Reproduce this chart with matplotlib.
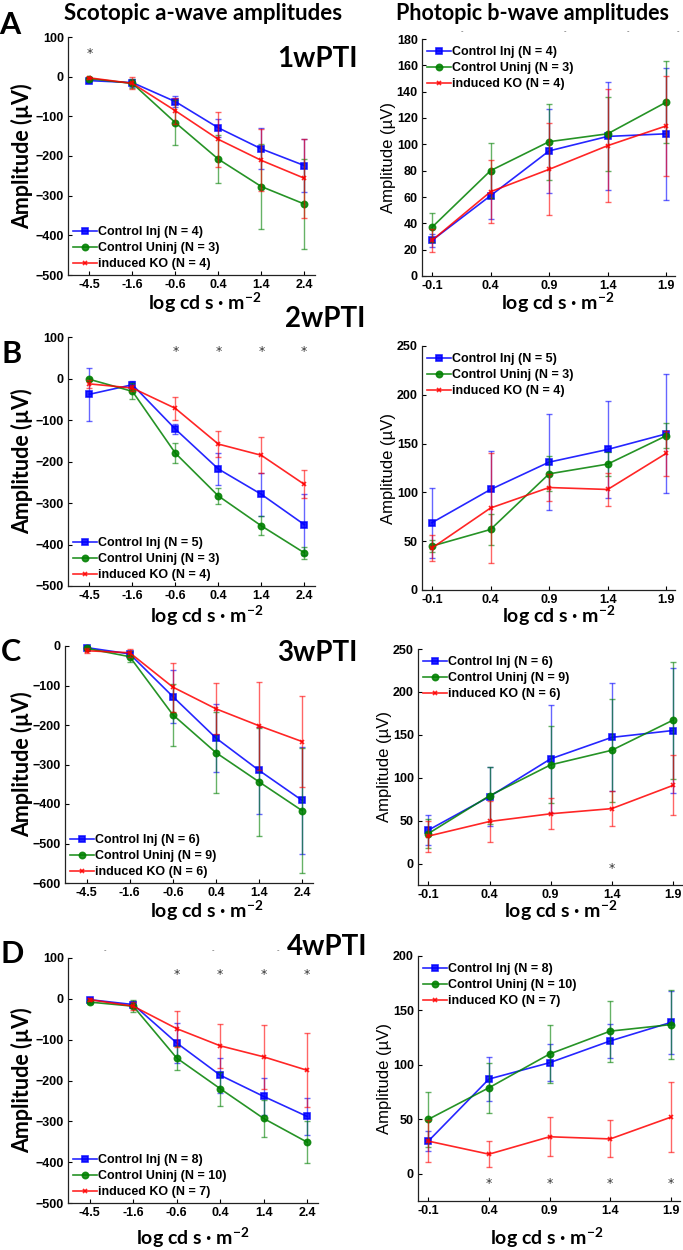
import matplotlib
matplotlib.use('Agg')
import matplotlib.pyplot as plt
import numpy as np

plt.rcParams['mathtext.default'] = 'regular'

# light intensities (log cd s m-2)
scot_lux = ['-4.5', '-1.6', '-0.6', '0.4', '1.4', '2.4']
phot_lux = ['-0.1', '0.4', '0.9', '1.4', '1.9']

# group sizes per time point
n_inj = [4, 5, 6, 8]
n_uninj = [3, 3, 9, 10]
n_ko = [4, 4, 6, 7]

# 1 week post TI
w1_scot_inj = [-10, -15, -63, -129, -182, -224]
w1_scot_inj_err = [3, 10, 14, 23, 52, 68]
w1_scot_uninj = [-5, -17, -116, -208, -277, -321]
w1_scot_uninj_err = [3, 12, 57, 60, 106, 113]
w1_scot_ko = [-3, -17, -86, -158, -211, -256]
w1_scot_ko_err = [3, 15, 33, 70, 78, 100]
w1_phot_inj = [27, 61, 95, 106, 108]
w1_phot_inj_err = [5, 18, 32, 41, 50]
w1_phot_uninj = [37, 80, 102, 108, 132]
w1_phot_uninj_err = [11, 21, 29, 28, 31]
w1_phot_ko = [27, 64, 81, 99, 114]
w1_phot_ko_err = [9, 24, 35, 43, 38]

# 2 weeks
w2_scot_inj = [-38, -15, -122, -218, -279, -352]
w2_scot_inj_err = [64, 10, 12, 39, 52, 73]
w2_scot_uninj = [-2, -31, -180, -283, -355, -420]
w2_scot_uninj_err = [3, 19, 24, 20, 23, 15]
w2_scot_ko = [-13, -23, -72, -158, -185, -255]
w2_scot_ko_err = [10, 8, 28, 32, 43, 34]
w2_phot_inj = [69, 103, 131, 144, 160]
w2_phot_inj_err = [36, 39, 49, 50, 61]
w2_phot_uninj = [45, 62, 119, 129, 158]
w2_phot_uninj_err = [6, 16, 18, 12, 13]
w2_phot_ko = [43, 84, 105, 103, 140]
w2_phot_ko_err = [13, 56, 14, 17, 23]

# 3 weeks
w3_scot_inj = [-4, -20, -128, -233, -315, -391]
w3_scot_inj_err = [3, 6, 67, 86, 110, 135]
w3_scot_uninj = [-6, -27, -174, -270, -344, -417]
w3_scot_uninj_err = [4, 14, 79, 103, 136, 158]
w3_scot_ko = [-12, -17, -104, -159, -202, -242]
w3_scot_ko_err = [6, 10, 62, 65, 111, 116]
w3_phot_inj = [39, 78, 122, 147, 155]
w3_phot_inj_err = [17, 34, 63, 63, 73]
w3_phot_uninj = [35, 79, 115, 132, 167]
w3_phot_uninj_err = [17, 33, 45, 60, 68]
w3_phot_ko = [32, 49, 58, 64, 91]
w3_phot_ko_err = [18, 24, 18, 20, 35]

# 4 weeks
w4_scot_inj = [-2, -14, -108, -187, -239, -288]
w4_scot_inj_err = [3, 8, 50, 43, 46, 46]
w4_scot_uninj = [-8, -18, -145, -220, -293, -351]
w4_scot_uninj_err = [5, 14, 30, 42, 46, 51]
w4_scot_ko = [-2, -18, -73, -115, -142, -175]
w4_scot_ko_err = [3, 10, 44, 54, 78, 91]
w4_phot_inj = [30, 87, 102, 122, 139]
w4_phot_inj_err = [9, 20, 17, 16, 29]
w4_phot_uninj = [50, 79, 110, 131, 137]
w4_phot_uninj_err = [25, 23, 27, 28, 32]
w4_phot_ko = [30, 18, 34, 32, 52]
w4_phot_ko_err = [19, 12, 18, 17, 32]

# significance stars: (index, y)
w1_scot_stars = ([0], 58)
w2_scot_stars = ([2, 3, 4, 5], 65)
w3_phot_stars = ([3], -6)
w4_scot_stars = ([2, 3, 4, 5], 59)
w4_phot_stars = ([1, 2, 3, 4], -9)

W, H = 683, 1250
fig = plt.figure(figsize=(W / 100, H / 100), dpi=100)


def box(x0, y0, x1, y1):
    return [x0 / W, 1 - y1 / H, (x1 - x0) / W, (y1 - y0) / H]


def px(x, y):
    return x / W, 1 - y / H


BLUE, GREEN, RED = '#0000ff', '#008000', '#ff0000'
TICKFONT = dict(family='Liberation Sans', weight='bold', size=9)
CAL = 'Lato'


def draw_panel(ax, labels, series, ylim, yticks, xlim, legend_loc, stars=None):
    x = np.arange(1, len(labels) + 1)
    styles = [(BLUE, 's', 4.5), (GREEN, 'o', 4.5), (RED, 'x', 3)]
    for (vals, err, name), (c, m, ms) in zip(series, styles):
        ax.errorbar(x, vals, yerr=err, fmt='none', ecolor=c, elinewidth=1,
                    capsize=2.2, capthick=1, alpha=0.6, clip_on=False)
        ax.plot(x, vals, color=c, marker=m, ms=ms, lw=1.2, alpha=0.85,
                mew=1.2, label=name, clip_on=False)
    ax.set_xlim(*xlim)
    ax.set_ylim(*ylim)
    ax.set_xticks(x)
    ax.set_xticklabels(labels)
    ax.set_yticks(yticks)
    for t in ax.get_xticklabels() + ax.get_yticklabels():
        t.set_fontproperties(matplotlib.font_manager.FontProperties(**TICKFONT))
    ax.tick_params(direction='in', length=3, width=0.8, pad=3)
    for s in ['top', 'right']:
        ax.spines[s].set_visible(False)
    for s in ['left', 'bottom']:
        ax.spines[s].set_linewidth(0.9)
        ax.spines[s].set_color('#222222')
    leg_kw = dict(frameon=False,
                  prop=dict(family='Liberation Sans', weight='bold', size=9),
                  handlelength=1.9, handletextpad=0.1, labelspacing=0.32,
                  borderaxespad=0.1, borderpad=0.3)
    if legend_loc == 'lower left':
        ax.legend(loc='lower left', bbox_to_anchor=(0.0, 0.0), **leg_kw)
    else:
        ax.legend(loc='upper left', bbox_to_anchor=(0.0, 0.99), **leg_kw)
    if stars:
        idx, yv = stars
        for i in idx:
            ax.text(x[i], yv, '*', ha='center', va='center', fontsize=9,
                    color='#333333')


scot_boxes = [(68, 37, 315, 275), (68, 337, 315, 586), (65, 646, 313, 883), (68, 958, 318, 1203)]
phot_boxes = [(422, 39, 675, 276), (422, 346, 675, 590), (418, 649, 682, 885), (418, 956, 680, 1201)]
scot_ylims = [(-500, 100), (-500, 100), (-600, 0), (-500, 100)]
scot_yticks = [np.arange(-500, 101, 100), np.arange(-500, 101, 100),
               np.arange(-600, 1, 100), np.arange(-500, 101, 100)]
phot_ylims = [(0, 180), (0, 250), (-25, 250), (-25, 200)]
phot_yticks = [np.arange(0, 181, 20), np.arange(0, 251, 50),
               np.arange(0, 251, 50), np.arange(0, 201, 50)]

scot_data = [
    (w1_scot_inj, w1_scot_inj_err, w1_scot_uninj, w1_scot_uninj_err, w1_scot_ko, w1_scot_ko_err),
    (w2_scot_inj, w2_scot_inj_err, w2_scot_uninj, w2_scot_uninj_err, w2_scot_ko, w2_scot_ko_err),
    (w3_scot_inj, w3_scot_inj_err, w3_scot_uninj, w3_scot_uninj_err, w3_scot_ko, w3_scot_ko_err),
    (w4_scot_inj, w4_scot_inj_err, w4_scot_uninj, w4_scot_uninj_err, w4_scot_ko, w4_scot_ko_err),
]
phot_data = [
    (w1_phot_inj, w1_phot_inj_err, w1_phot_uninj, w1_phot_uninj_err, w1_phot_ko, w1_phot_ko_err),
    (w2_phot_inj, w2_phot_inj_err, w2_phot_uninj, w2_phot_uninj_err, w2_phot_ko, w2_phot_ko_err),
    (w3_phot_inj, w3_phot_inj_err, w3_phot_uninj, w3_phot_uninj_err, w3_phot_ko, w3_phot_ko_err),
    (w4_phot_inj, w4_phot_inj_err, w4_phot_uninj, w4_phot_uninj_err, w4_phot_ko, w4_phot_ko_err),
]
scot_stars = [w1_scot_stars, w2_scot_stars, None, w4_scot_stars]
phot_stars = [None, None, w3_phot_stars, w4_phot_stars]

letters = ['A', 'B', 'C', 'D']
letter_pos = [(10, 25), (12, 354), (11, 652), (12, 954)]
week_labels = ['1wPTI', '2wPTI', '3wPTI', '4wPTI']
week_pos = [(277, 59), (285, 319), (277, 653), (287, 947)]
scot_xlabel_pos = [(205, 303), (207, 616), (207, 911), (193, 1238)]
phot_xlabel_pos = [(558, 303), (559, 616), (561, 911), (547, 1238)]
phot_ylabel_x = [388, 388, 384, 384]

for k in range(4):
    inj, inj_e, un, un_e, ko, ko_e = scot_data[k]
    names = ['Control Inj (N = %d)' % n_inj[k], 'Control Uninj (N = %d)' % n_uninj[k],
             'induced KO (N = %d)' % n_ko[k]]
    ax = fig.add_axes(box(*scot_boxes[k]))
    draw_panel(ax, scot_lux, [(inj, inj_e, names[0]), (un, un_e, names[1]), (ko, ko_e, names[2])],
               scot_ylims[k], scot_yticks[k], (0.5, 6.25), 'lower left', scot_stars[k])
    b = scot_boxes[k]
    fig.text(*px(22, (b[1] + b[3]) / 2), 'Amplitude (µV)', rotation=90, ha='center',
             va='center', family=CAL, weight='bold', fontsize=15.5)

    inj, inj_e, un, un_e, ko, ko_e = phot_data[k]
    ax = fig.add_axes(box(*phot_boxes[k]))
    draw_panel(ax, phot_lux, [(inj, inj_e, names[0]), (un, un_e, names[1]), (ko, ko_e, names[2])],
               phot_ylims[k], phot_yticks[k], (0.83, 5.15), 'upper left', phot_stars[k])
    b = phot_boxes[k]
    fig.text(*px(phot_ylabel_x[k], (b[1] + b[3]) / 2), 'Amplitude (µV)', rotation=90,
             ha='center', va='center', family='Liberation Sans', fontsize=12)

    for pos in (scot_xlabel_pos[k], phot_xlabel_pos[k]):
        fig.text(*px(*pos), 'log cd s · m$^{-2}$', ha='center', va='center',
                 family=CAL, weight='bold', fontsize=14)
    fig.text(*px(*letter_pos[k]), letters[k], ha='center', va='center',
             family=CAL, weight='bold', fontsize=22)
    fig.text(*px(*week_pos[k]), week_labels[k], ha='left', va='center',
             family=CAL, weight='bold', fontsize=20)

fig.text(*px(203, 14), 'Scotopic a-wave amplitudes', ha='center', va='center',
         family=CAL, weight='bold', fontsize=16)
fig.text(*px(532, 14), 'Photopic b-wave amplitudes', ha='center', va='center',
         family=CAL, weight='bold', fontsize=15.5)

# stray tick remnants along the top of two panels
for xp, yp in [(462, 31), (565, 31), (628, 31), (678, 31), (105, 950), (213, 950), (278, 950)]:
    fig.text(*px(xp, yp), '-', ha='center', va='center', fontsize=5, color='#555555')

fig.savefig('out.png', dpi=100)
